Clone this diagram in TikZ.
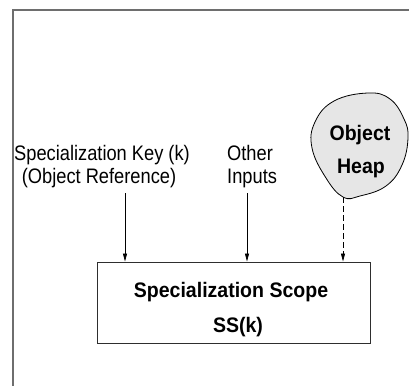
\documentclass[tikz,border=0pt]{standalone}
\usepackage{fontspec}
\usepackage{graphicx}
\setmainfont{Liberation Sans}
\usetikzlibrary{arrows.meta}

\definecolor{framegray}{HTML}{6E6E6E}
\definecolor{boxline}{HTML}{2E2E2E}
\definecolor{heapfill}{HTML}{E6E6E6}

% slightly condensed text, regular and bold
\newcommand{\plaintxt}[1]{\scalebox{0.87}[1]{#1}}
\newcommand{\boldtxt}[1]{\scalebox{0.93}[1]{#1}}

\tikzset{
  plainlabel/.style={inner sep=0pt, font=\fontsize{21}{25}\selectfont},
  boldlabel/.style={inner sep=0pt, font=\fontsize{21}{25}\selectfont\bfseries},
  scopebox/.style={draw=boxline, line width=0.9pt, minimum width=273pt, minimum height=81pt, inner sep=0pt},
  feed/.style={line width=0.8pt, -{Triangle[length=8pt,width=4pt]}},
  heapfeed/.style={feed, dash pattern=on 6pt off 3pt},
}

\begin{document}
\begin{tikzpicture}[x=1pt, y=-1pt]
  \useasboundingbox (0,0) rectangle (409,386);

  % outer frame (only top and left edges fall inside the page)
  \draw[framegray, line width=1.5pt] (409,10) -- (13,10) -- (13,386);

  % object heap blob
  \draw[fill=heapfill, line width=0.8pt] plot[smooth cycle, tension=0.7] coordinates {
    (368,93) (390,99) (404,119) (408,138) (402,165) (386,186)
    (360,196) (343,197) (326,178) (312,148) (315,122) (334,101)};
  \coordinate (heapbottom) at (343,197);
  \node[boldlabel, anchor=base] (heapA) at (360,140) {\boldtxt{Object}};
  \node[boldlabel, anchor=base] (heapB) at (361,173) {\boldtxt{Heap}};

  % specialization scope box
  \node[scopebox] (box) at (233.5,302.5) {};
  \node[boldlabel, anchor=base] (boxtitle) at (231,297) {\boldtxt{Specialization Scope}};
  \node[boldlabel, anchor=base] (boxsub) at (238,332) {\boldtxt{SS(k)}};

  % input labels
  \node[plainlabel, anchor=base] (keyA) at (102,160) {\plaintxt{Specialization Key (k)}};
  \node[plainlabel, anchor=base] (keyB) at (99,183) {\plaintxt{(Object Reference)}};
  \node[plainlabel, anchor=base west] (otherA) at (227,160) {\plaintxt{Other}};
  \node[plainlabel, anchor=base west] (otherB) at (227,183) {\plaintxt{Inputs}};

  \coordinate (keyfoot) at (125,193);
  \coordinate (otherfoot) at (247,193);

  % connectors into the scope box
  \draw[feed] (keyfoot) -- (keyfoot |- box.north);
  \draw[feed] (otherfoot) -- (otherfoot |- box.north);
  \draw[heapfeed] (heapbottom) -- (heapbottom |- box.north);
\end{tikzpicture}
\end{document}
